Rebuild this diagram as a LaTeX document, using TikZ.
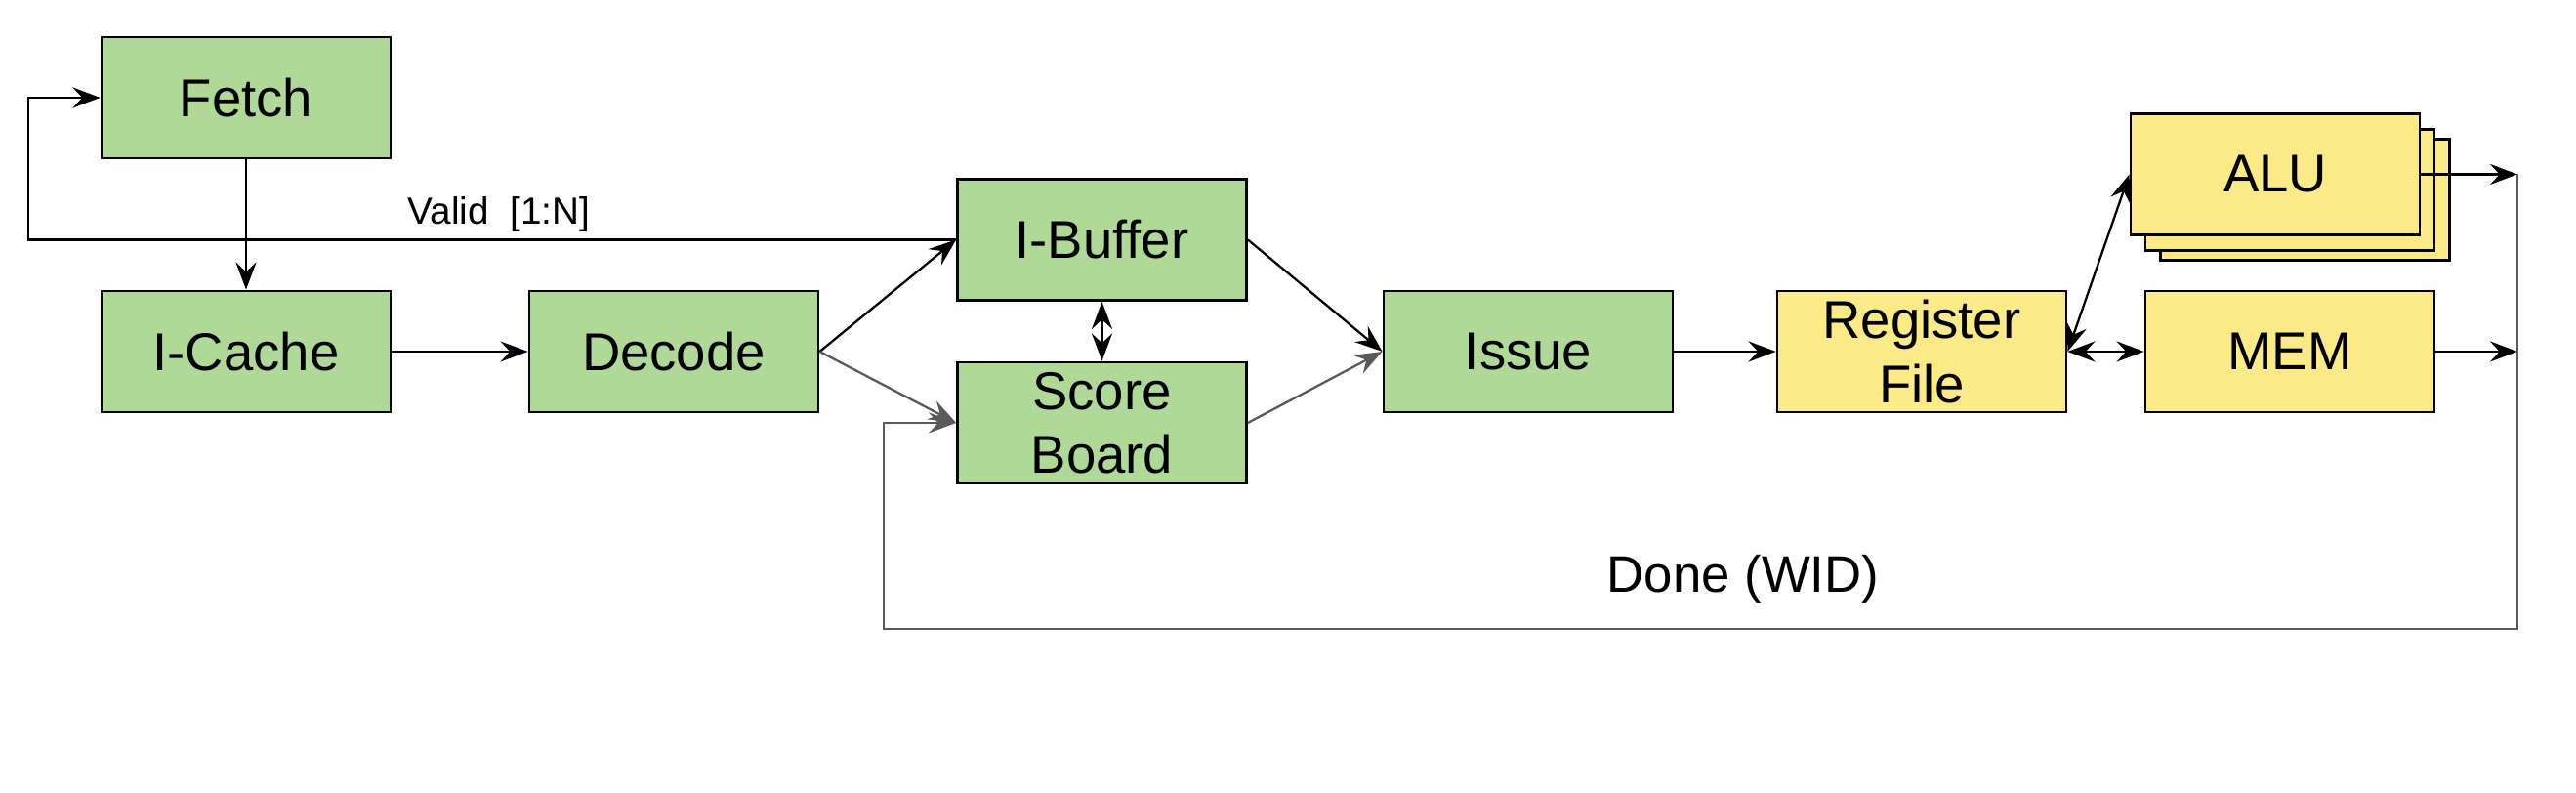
\documentclass[tikz,border=0pt]{standalone}
\usepackage{fontspec}
\setmainfont{Liberation Sans}
\usepackage{xcolor}
\usepackage{tikz}
\usetikzlibrary{positioning, arrows.meta}

\definecolor{stagegreen}{RGB}{176,216,150}
\definecolor{unityellow}{RGB}{250,234,136}
\definecolor{wiregray}{RGB}{90,90,90}

\begin{document}
\begin{tikzpicture}[
    >={Stealth[length=8pt, width=6pt, inset=2.8pt]},
    box/.style = {
        rectangle, draw=black, line width=0.8pt, minimum width=2.96cm, minimum height=1.24cm,
        align=center, inner sep=0pt, font=\fontsize{15.5}{18.6}\selectfont
    },
    stage/.style = {box, fill=stagegreen},
    unit/.style = {box, fill=unityellow},
    arrow/.style = {
        ->, line width=0.65pt, color=black
    },
    darrow/.style = {arrow, <->},
    feed/.style = {arrow, color=wiregray},
    tag/.style = {
        font=\fontsize{11}{13}\selectfont, inner sep=0pt
    }
]
\useasboundingbox (0,0) rectangle (26.38,8.12);

% Row 1 ── Front end
\node[stage] (fetch)   at (2.52, 7.12)   {Fetch};
\node[stage] (icache)  at (2.52, 4.52)   {I-Cache};
\node[stage] (decode)  at (6.90, 4.52)   {Decode};
\node[stage] (ibuf)    at (11.285, 5.665) {I-Buffer};
\node[stage] (score)   at (11.285, 3.79) {Score\\Board};
\node[stage] (issue)   at (15.65, 4.52)  {Issue};

% Row 2 ── Back end
\node[unit]  (regfile) at (19.68, 4.52)  {Register\\File};
\node[unit]  (mem)     at (23.45, 4.52)  {MEM};
\node[unit]  (alu3)    at (23.605, 6.075) {};
\node[unit]  (alu2)    at (23.45, 6.175) {};
\node[unit]  (alu)     at (23.30, 6.335) {ALU};

% Free ends of the wires
\coordinate (aluout) at (25.78, 6.335);
\coordinate (memout) at (25.78, 4.52);
\coordinate (doneR)  at (25.78, 1.68);
\coordinate (doneL)  at (9.05, 1.68);
\coordinate (validL) at (0.29, 5.665);

% Pipeline arrows
\draw[arrow] (fetch.south)  -- (icache.north);
\draw[arrow] (icache.east)  -- (decode.west);
\draw[arrow] (decode.east)  -- (ibuf.west);
\draw[feed]  (decode.east)  -- (score.west);
\draw[arrow] (ibuf.east)    -- (issue.west);
\draw[feed]  (score.east)   -- (issue.west);
\draw[darrow] (ibuf.south)  -- (score.north);
\draw[arrow] (issue.east)   -- (regfile.west);
\draw[darrow] (regfile.east) -- (alu.west);
\draw[darrow] (regfile.east) -- (mem.west);
\draw[arrow] (alu.east)     -- (aluout);
\draw[arrow] (mem.east)     -- (memout);

% Valid loop back to Fetch
\draw[arrow] (ibuf.west) -- (validL) |- (fetch.west);
\node[tag] (valid) at (5.11, 5.92) {Valid\ \ [1:N]};

% Done feedback to Score Board
\draw[feed] (aluout) -- (doneR) -- (doneL) |- (score.west);
\node[font=\fontsize{15}{18}\selectfont] (done) at (17.85, 2.19) {Done (WID)};

\end{tikzpicture}
\end{document}
